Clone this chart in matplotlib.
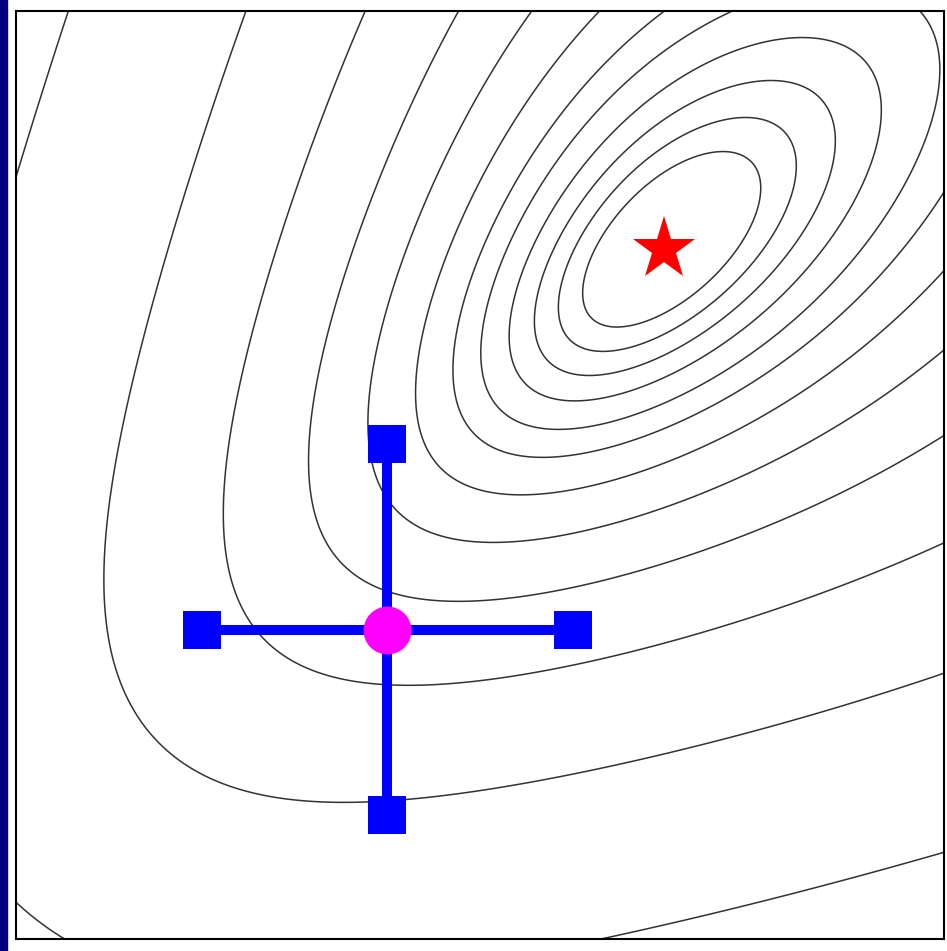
import numpy as np
import matplotlib
matplotlib.use("Agg")
import matplotlib.pyplot as plt
from matplotlib.patches import Rectangle

# objective: weighted sum of softplus terms
slopes = [(2.6339, -0.5695), (-0.2626, 2.5690), (0.2273, -0.4533), (-0.7098, 0.6287)]
offsets = [-1.5687, -1.0485, -3.8325, -2.0433]
weights = [1.0, np.exp(0.0098), np.exp(2.4632), np.exp(0.4882)]
levels = [0.5904, 0.5957, 0.6028, 0.6126, 0.6269, 0.6449, 0.6764,
          0.7314, 0.8293, 1.0434, 1.5241, 2.6889]

# compass search: current point, step, and best point
current = (0.2, 0.0)
step = 0.6
optimum = (1.095, 1.23)
xlim = (-1, 2)
ylim = (-1, 2)

g = np.linspace(-1, 2, 600)
X, Y = np.meshgrid(g, g)
Z = np.zeros_like(X)
for (a, b), c, m in zip(slopes, offsets, weights):
    Z += m * np.logaddexp(0, c - a * X - b * Y)

fig = plt.figure(figsize=(9.47, 9.51), dpi=100)
fig.patches.append(Rectangle((0, 0), 7 / 947, 1, transform=fig.transFigure,
                             color="#000080", zorder=0))
ax = fig.add_axes([16 / 947, 12 / 951, 928 / 947, 928 / 951])

ax.contour(X, Y, Z, levels=levels, colors="#333333", linewidths=1.1, zorder=1)

cx, cy = current
ax.plot([cx - step, cx + step], [cy, cy], color="#0000ff", lw=7.2, zorder=2)
ax.plot([cx, cx], [cy - step, cy + step], color="#0000ff", lw=7.2, zorder=2)
nbx = [cx - step, cx + step, cx, cx]
nby = [cy, cy, cy - step, cy + step]
ax.plot(nbx, nby, "s", color="#0000ff", ms=27.5, mew=0, zorder=3)
ax.plot([cx], [cy], "o", color="#ff00ff", ms=34.5, mew=0, zorder=4)
ax.plot([optimum[0]], [optimum[1]], "*", color="#ff0000", ms=47.5, mew=0, zorder=4)

ax.set_xlim(*xlim)
ax.set_ylim(*ylim)
ax.set_xticks([])
ax.set_yticks([])
for s in ax.spines.values():
    s.set_linewidth(1.5)

fig.savefig("out.png")
